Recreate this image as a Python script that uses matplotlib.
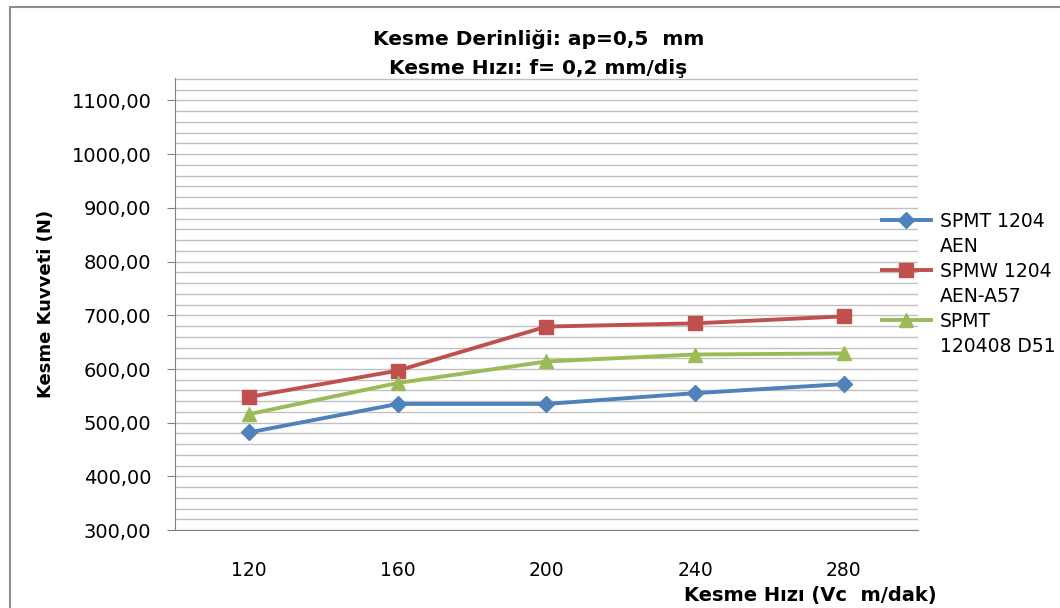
import matplotlib.pyplot as plt
import numpy as np
from matplotlib.lines import Line2D
from matplotlib.patches import Rectangle
from matplotlib.ticker import FuncFormatter, MultipleLocator

plt.rcParams['font.family'] = ['DejaVu Sans']

# Data
speeds = ["120", "160", "200", "240", "280"]
spmt_1204 = [482, 535, 535, 555, 572]
spmw_1204 = [548, 597, 679, 685, 698]
spmt_120408 = [516, 574, 614, 627, 629]

names = [("SPMT 1204", "AEN"), ("SPMW 1204", "AEN-A57"), ("SPMT", "120408 D51")]
colors = ["#4F81BD", "#C0504D", "#9BBB59"]
markers = ["D", "s", "^"]
msizes = [8, 10.5, 10.5]

fig = plt.figure(figsize=(10.6, 6.08), dpi=100)
ax = fig.add_axes([0.165, 0.128, 0.701, 0.744])

x = np.arange(len(speeds))
handles, labels = [], []
for vals, nm, c, m, ms in zip([spmt_1204, spmw_1204, spmt_120408], names, colors, markers, msizes):
    h, = ax.plot(x, vals, color=c, marker=m, markersize=ms, linewidth=2.8)
    # legend text wraps onto two rows, second row has no symbol
    handles += [h, Line2D([], [], linestyle="none")]
    labels += [nm[0], nm[1]]

ax.set_xlim(-0.5, len(speeds) - 0.5)
ax.set_ylim(300, 1142)
ax.set_xticks(x)
ax.set_xticklabels(speeds)
ax.yaxis.set_major_locator(MultipleLocator(100))
ax.yaxis.set_minor_locator(MultipleLocator(20))
ax.yaxis.set_major_formatter(FuncFormatter(lambda v, p: f"{v:.2f}".replace(".", ",")))
ax.grid(True, which="both", axis="y", color="#c0c0c0", linewidth=1)
ax.set_axisbelow(True)
ax.tick_params(axis="y", which="major", length=6, color="#808080", labelsize=14, pad=11)
ax.tick_params(axis="y", which="minor", length=0)
ax.tick_params(axis="x", length=0, labelsize=13.5, pad=22)
for s in ["top", "right"]:
    ax.spines[s].set_visible(False)
ax.spines["left"].set_color("#808080")
ax.spines["bottom"].set_color("#808080")

ax.set_ylabel("Kesme Kuvveti (N)", fontsize=13, fontweight="bold", labelpad=12)
fig.text(0.764, 0.012, "Kesme Hızı (Vc  m/dak)", fontsize=14, fontweight="bold", ha="center")
fig.text(0.508, 0.935, "Kesme Derinliği: ap=0,5  mm", fontsize=14.5, fontweight="bold", ha="center", va="center")
fig.text(0.508, 0.888, "Kesme Hızı: f= 0,2 mm/diş", fontsize=14.5, fontweight="bold", ha="center", va="center")

leg = fig.legend(handles, labels, loc="upper left", bbox_to_anchor=(882 / 1060, 1 - 212 / 608),
                 frameon=False, fontsize=13.5, borderpad=0, borderaxespad=0,
                 handlelength=2.6, handletextpad=0.5, labelspacing=0.32)

fig.patches.append(Rectangle((0.0095, -0.1), 1.2, 1.088, transform=fig.transFigure,
                             fill=False, edgecolor="#8c8c8c", linewidth=1.5))

fig.savefig("out.png", dpi=100)
